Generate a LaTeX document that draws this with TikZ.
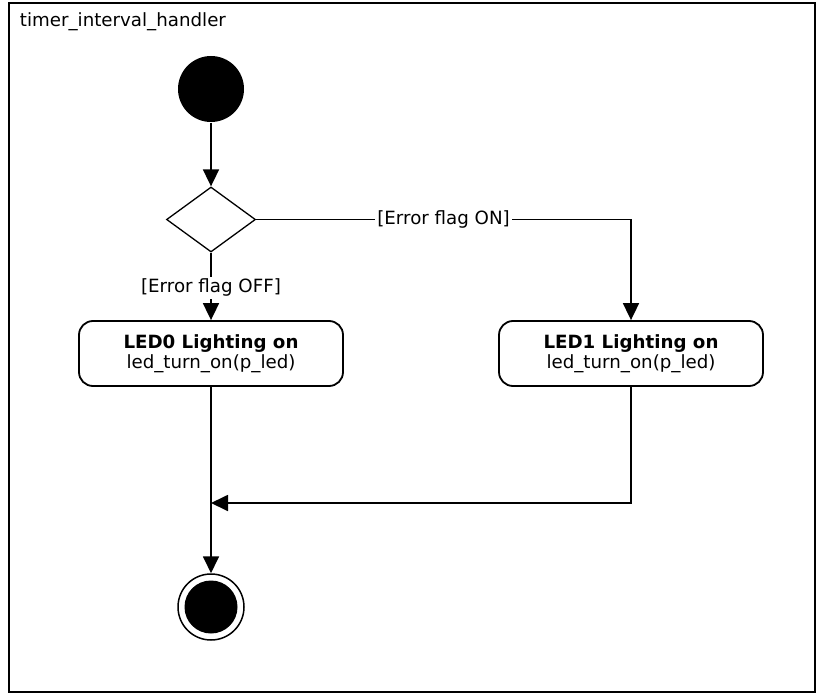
\documentclass[tikz,border=0pt]{standalone}
\usepackage{fontspec}
\setmainfont{DejaVu Sans}
\usetikzlibrary{shapes.geometric, arrows.meta}

\begin{document}
\begin{tikzpicture}[
    x=1bp, y=-1bp,
    font=\fontsize{18.3}{20}\selectfont,
    line width=1.8bp,
    >={Triangle[length=17bp, width=16bp]},
    start/.style={circle, fill=black, minimum size=66bp, inner sep=0pt},
    ring/.style={circle, draw, line width=1.5bp, minimum size=66bp, inner sep=0pt},
    core/.style={circle, fill=black, minimum size=53bp, inner sep=0pt},
    choice/.style={diamond, draw, line width=1.3bp, minimum width=89bp, minimum height=65bp, inner sep=0pt},
    action/.style={draw, rectangle, rounded corners=14bp, minimum width=264bp, minimum height=65bp, align=center},
    guard/.style={fill=white, inner sep=2bp}
]
    \useasboundingbox (0,0) rectangle (824,695);

    % Frame and its name
    \draw[line width=2.4bp] (9,3) rectangle (815,692);
    \node[anchor=base west, inner sep=0pt] (title) at (19,27) {timer\_interval\_handler};

    % Nodes
    \node[start]  (init)   at (211,89)    {};
    \node[choice] (decide) at (211,219.5) {};
    \node[action] (led0)   at (211,353.5) {\textbf{LED0 Lighting on}\\led\_turn\_on(p\_led)};
    \node[action] (led1)   at (631,353.5) {\textbf{LED1 Lighting on}\\led\_turn\_on(p\_led)};
    \node[ring]   (stop)   at (211,607)   {};
    \node[core]   (stopin) at (stop)      {};
    \coordinate (merge) at (211,503);

    % Flows
    \draw[->] (init) -- (decide);
    \draw[->] (decide) -- node[guard, pos=0.52] (offlbl) {[Error flag OFF]} (led0);
    \draw[->] (decide.east) -| node[guard, pos=0.25] (onlbl) {[Error flag ON]} (led1);
    \draw[->] (led0) -- (stop);
    \draw[->] (led1) |- (merge);

\end{tikzpicture}
\end{document}
